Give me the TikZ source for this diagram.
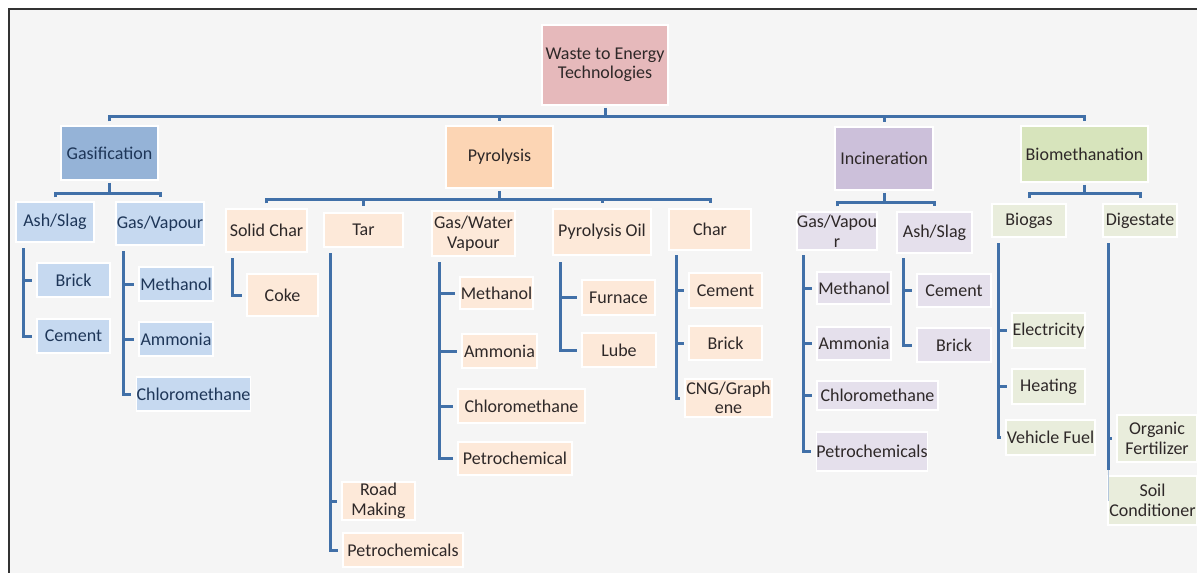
\documentclass[tikz,border=0pt]{standalone}
\usepackage{fontspec}
\setmainfont{Carlito}
\definecolor{bgc}{HTML}{F5F5F5}
\definecolor{framec}{HTML}{333333}
\definecolor{lc}{HTML}{4170A8}
\definecolor{c0}{HTML}{E6B9BB}
\definecolor{cg1}{HTML}{95B3D7}
\definecolor{cg2}{HTML}{C6D9F0}
\definecolor{cp1}{HTML}{FCD5B4}
\definecolor{cp2}{HTML}{FDE9D9}
\definecolor{ci1}{HTML}{CCC0DA}
\definecolor{ci2}{HTML}{E5E0EC}
\definecolor{cb1}{HTML}{D7E4BC}
\definecolor{cb2}{HTML}{E9EDDC}
\definecolor{txt}{HTML}{2E2828}
\definecolor{tb}{HTML}{1E3658}
\newcommand\bx[7]{\node[#1, minimum width={(#5-#3)*1pt}, minimum height={(#6-#4)*1pt}] (#2) at ({(#3+#5)/2},{(#4+#6)/2}) {#7};}
\begin{document}
\begin{tikzpicture}[x=1pt,y=-1pt,
  every node/.style={font=\fontsize{18}{19.5}\selectfont, align=center, inner sep=0pt, draw=white, line width=1.5pt, text=txt},
  conn/.style={draw=lc, line width=3pt},
  tk/.style={conn, shorten >=4.5pt},
  L0/.style={fill=c0},
  gA/.style={fill=cg1, text=tb},
  gB/.style={fill=cg2, text=tb},
  pA/.style={fill=cp1},
  pB/.style={fill=cp2},
  iA/.style={fill=ci1},
  iB/.style={fill=ci2},
  bA/.style={fill=cb1},
  bB/.style={fill=cb2}]
\useasboundingbox (0,0) rectangle (1197,573);
\fill[white] (0,0) rectangle (1197,573);
\fill[bgc] (9,9) rectangle (1197,573);
\draw[framec, line width=2pt] (9,573) -- (9,9) -- (1197,9);

% level 0 and 1
\bx{L0}{root}{542}{25}{668}{105}{Waste to Energy\\Technologies}
\bx{gA}{gasif}{61}{126}{158}{180}{Gasification}
\bx{pA}{pyro}{446}{126}{553}{188}{Pyrolysis}
\bx{iA}{incin}{835}{127}{933}{190}{Incineration}
\bx{bA}{biom}{1021}{126}{1148}{182}{Biomethanation}

% gasification
\bx{gB}{gAsh}{16}{202}{94}{242}{Ash/Slag}
\bx{gB}{gGas}{116}{202}{204}{245}{Gas/Vapour}
\bx{gB}{gBrick}{37}{263}{110}{297}{Brick}
\bx{gB}{gCement}{37}{319}{110}{353}{Cement}
\bx{gB}{gMeth}{139}{267}{213}{301}{Methanol}
\bx{gB}{gAmm}{139}{322}{213}{356}{Ammonia}
\bx{gB}{gChl}{139}{377}{248}{411}{Chloromethane}

% pyrolysis
\bx{pB}{pSolid}{226}{209}{307}{252}{Solid Char}
\bx{pB}{pTar}{324}{213}{403}{247}{Tar}
\bx{pB}{pGas}{432}{211}{515}{256}{Gas/Water\\Vapour}
\bx{pB}{pOil}{553}{209}{651}{255}{Pyrolysis Oil}
\bx{pB}{pChar}{669}{209}{751}{250}{Char}
\bx{pB}{pCoke}{247}{274}{318}{316}{Coke}
\bx{pB}{pRoad}{342}{482}{415}{520}{Road\\Making}
\bx{pB}{pPetro}{343}{533}{463}{567}{Petrochemicals}
\bx{pB}{pMeth}{460}{277}{533}{309}{Methanol}
\bx{pB}{pAmm}{462}{334}{537}{368}{Ammonia}
\bx{pB}{pChl}{458}{389}{585}{423}{Chloromethane}
\bx{pB}{pPet}{458}{442}{572}{475}{Petrochemical}
\bx{pB}{pFurn}{582}{280}{655}{315}{Furnace}
\bx{pB}{pLube}{582}{333}{656}{367}{Lube}
\bx{pB}{pCem}{689}{273}{762}{308}{Cement}
\bx{pB}{pBrick}{689}{326}{762}{360}{Brick}
\bx{pB}{pCNG}{685}{379}{772}{417}{CNG/Graph\\ene}

% incineration
\bx{iB}{iGas}{797}{212}{877}{250}{Gas/Vapou\\r}
\bx{iB}{iAsh}{897}{212}{972}{253}{Ash/Slag}
\bx{iB}{iMeth}{817}{272}{891}{304}{Methanol}
\bx{iB}{iAmm}{817}{327}{891}{360}{Ammonia}
\bx{iB}{iChl}{817}{381}{938}{410}{Chloromethane}
\bx{iB}{iPet}{817}{432}{927}{471}{Petrochemicals}
\bx{iB}{iCem}{917}{274}{991}{307}{Cement}
\bx{iB}{iBrick}{917}{328}{991}{362}{Brick}

% biomethanation
\bx{bB}{bGas}{992}{204}{1066}{237}{Biogas}
\bx{bB}{bDig}{1103}{204}{1177}{237}{Digestate}
\bx{bB}{bElec}{1012}{313}{1085}{348}{Electricity}
\bx{bB}{bHeat}{1012}{369}{1085}{404}{Heating}
\bx{bB}{bVeh}{1006}{420}{1095}{455}{Vehicle Fuel}
\bx{bB}{bOrg}{1117}{415}{1197}{462}{Organic\\Fertilizer}
\bx{bB}{bSoil}{1108}{476}{1197}{525}{Soil\\Conditioner}

% buses
\coordinate (busM) at (0,116);
\coordinate (busG) at (0,193);
\coordinate (busP) at (0,199);
\coordinate (busI) at (0,202);
\coordinate (busB) at (0,193);

\draw[conn, shorten <=4pt, shorten >=4pt] (gasif.north) -- (gasif.north |- busM) -- (biom.north |- busM) -- (biom.north);
\draw[conn, shorten <=2pt] (root.south) -- (root.south |- busM);
\draw[conn, shorten >=4pt] (pyro.north |- busM) -- (pyro.north);
\draw[conn, shorten >=4pt] (incin.north |- busM) -- (incin.north);

\draw[conn, shorten <=4pt, shorten >=4pt] (gAsh.north) -- (gAsh.north |- busG) -- (gGas.north |- busG) -- (gGas.north);
\draw[conn, shorten <=2pt] (gasif.south) -- (gasif.south |- busG);

\draw[conn, shorten <=5pt, shorten >=5pt] (pSolid.north) -- (pSolid.north |- busP) -- (pChar.north |- busP) -- (pChar.north);
\draw[conn, shorten <=2pt] (pyro.south) -- (pyro.south |- busP);
\draw[conn, shorten >=6pt] (pTar.north |- busP) -- (pTar.north);
\draw[conn, shorten >=5pt] (pOil.north |- busP) -- (pOil.north);

\draw[conn, shorten <=5pt, shorten >=5pt] (iGas.north) -- (iGas.north |- busI) -- (iAsh.north |- busI) -- (iAsh.north);
\draw[conn, shorten <=2pt] (incin.south) -- (incin.south |- busI);

\draw[conn, shorten <=5pt, shorten >=5pt] (bGas.north) -- (bGas.north |- busB) -- (bDig.north |- busB) -- (bDig.north);
\draw[conn, shorten <=2pt] (biom.south) -- (biom.south |- busB);

% lists
\coordinate (gAsh-t) at (23,248);
\draw[tk] (gAsh-t) |- (gCement.west);
\draw[tk] (gAsh-t |- gBrick.west) -- (gBrick.west);

\coordinate (gGas-t) at (123,251);
\draw[tk] (gGas-t) |- (gChl.west);
\draw[tk] (gGas-t |- gMeth.west) -- (gMeth.west);
\draw[tk] (gGas-t |- gAmm.west) -- (gAmm.west);

\coordinate (pSolid-t) at (232,258);
\draw[tk] (pSolid-t) |- (pCoke.west);

\coordinate (pTar-t) at (330,253);
\draw[tk] (pTar-t) |- (pPetro.west);
\draw[tk] (pTar-t |- pRoad.west) -- (pRoad.west);

\coordinate (pGas-t) at (439,262);
\draw[tk] (pGas-t) |- (pPet.west);
\draw[tk] (pGas-t |- pMeth.west) -- (pMeth.west);
\draw[tk] (pGas-t |- pAmm.west) -- (pAmm.west);
\draw[tk] (pGas-t |- pChl.west) -- (pChl.west);

\coordinate (pOil-t) at (560,262);
\draw[tk] (pOil-t) |- (pLube.west);
\draw[tk] (pOil-t |- pFurn.west) -- (pFurn.west);

\coordinate (pChar-t) at (676,255);
\draw[tk] (pChar-t) |- (pCNG.west);
\draw[tk] (pChar-t |- pCem.west) -- (pCem.west);
\draw[tk] (pChar-t |- pBrick.west) -- (pBrick.west);

\coordinate (iGas-t) at (803,255);
\draw[tk] (iGas-t) |- (iPet.west);
\draw[tk] (iGas-t |- iMeth.west) -- (iMeth.west);
\draw[tk] (iGas-t |- iAmm.west) -- (iAmm.west);
\draw[tk] (iGas-t |- iChl.west) -- (iChl.west);

\coordinate (iAsh-t) at (903,258);
\draw[tk] (iAsh-t) |- (iBrick.west);
\draw[tk] (iAsh-t |- iCem.west) -- (iCem.west);

\coordinate (bGas-t) at (998,243);
\draw[tk] (bGas-t) |- (bVeh.west);
\draw[tk] (bGas-t |- bElec.west) -- (bElec.west);
\draw[tk] (bGas-t |- bHeat.west) -- (bHeat.west);

\coordinate (bDig-t) at (1108,243);
\coordinate (bDig-e) at (1108,470);
\draw[conn] (bDig-t) -- (bDig-e);
\draw[tk] (bDig-t |- bOrg.west) -- (bOrg.west);
\draw[lc!40, line width=0.8pt] (bDig-e) -- (bDig-e |- bSoil.west);
\end{tikzpicture}
\end{document}
